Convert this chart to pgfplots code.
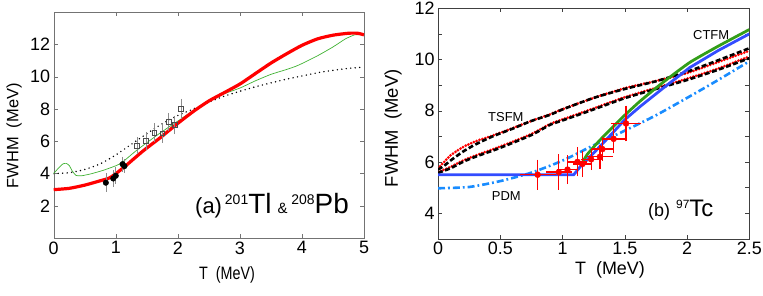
\documentclass[border=0pt]{standalone}
\usepackage{fontspec}
\setmainfont{Liberation Sans}
\usepackage{graphicx}
\usepackage{pgfplots}
\pgfplotsset{compat=1.18}
\definecolor{fgreen}{rgb}{0.25,0.7,0.2}
\definecolor{dgreen}{rgb}{0.2,0.62,0.1}
\definecolor{fblue}{rgb}{0.2,0.3,1}
\definecolor{lblue}{rgb}{0.1,0.55,1}
\begin{document}
\begin{tikzpicture}[x=1bp,y=1bp]
\path[use as bounding box] (0,0) rectangle (763,295);
% ---------------- panel (a)
\begin{axis}[at={(53.7bp,57bp)}, anchor=south west, scale only axis,
  width=310.3bp, height=225.7bp,
  xmin=0, xmax=5, ymin=0, ymax=14,
  xtick={0,1,2,3,4,5}, ytick={2,4,6,8,10,12},
  tick align=inside, major tick length=4bp,
  axis line style={black!55}, tick style={black!55},
  /pgf/number format/assume math mode=true,
  ticklabel style={font=\fontsize{18}{18}\selectfont},
  clip=true]
\addplot[black, line width=1.6bp, line cap=round, dash pattern=on 0bp off 4.5bp, smooth, tension=0.4] coordinates {
(0,4.0) (0.25,4.05) (0.5,4.25) (0.75,4.6) (1.0,5.15) (1.34,6.05) (1.71,7.0) (2.0,7.6) (2.25,8.0) (2.52,8.45) (2.75,8.8) (3.0,9.1) (3.25,9.38) (3.5,9.62) (3.75,9.85) (4.0,10.05) (4.25,10.25) (4.5,10.4) (4.75,10.52) (5.0,10.6)};
\addplot[fgreen, line width=0.7bp, smooth, tension=0.3] coordinates {
(0,4.0) (0.08,4.35) (0.15,4.6) (0.2,4.63) (0.25,4.5) (0.3,4.15) (0.36,3.88) (0.45,3.86) (0.6,3.98) (0.8,4.2) (1.0,4.48) (1.1,4.68) (1.34,5.45) (1.71,6.5) (1.98,7.2) (2.25,7.9) (2.52,8.55) (2.75,8.95) (3.0,9.3) (3.25,9.75) (3.5,10.15) (3.75,10.45) (3.9,10.65) (4.0,10.82) (4.25,11.3) (4.5,11.85) (4.7,12.35) (4.85,12.6) (5.0,12.6)};
\addplot[red, line width=3.2bp, smooth, tension=0.4] coordinates {
(0,3.0) (0.25,3.08) (0.5,3.28) (0.75,3.55) (0.91,3.75) (1.12,4.35) (1.44,5.4) (1.71,6.2) (1.98,7.05) (2.25,7.85) (2.5,8.5) (2.75,9.02) (3.0,9.55) (3.25,10.2) (3.5,10.85) (3.75,11.42) (4.0,11.95) (4.25,12.35) (4.5,12.58) (4.75,12.7) (4.9,12.7) (5.0,12.6)};
\addplot[only marks, mark=square, mark size=2.4bp, mark options={draw=black!70, fill=white, line width=0.6bp},
  error bars/.cd, y dir=both, y explicit, error bar style={black!45, line width=0.6bp}, error mark options={black!45, mark size=2bp, line width=0.6bp}]
  table[x=x, y=y, y error=e] {
x y e
1.34 5.72 0.40
1.49 6.01 0.45
1.62 6.53 0.45
1.75 6.49 0.45
1.85 7.19 0.45
1.95 7.02 0.45
2.05 8.00 0.50
};
\addplot[only marks, mark=*, mark size=2.8bp, mark options={black},
  error bars/.cd, y dir=both, y explicit, error bar style={black!45, line width=0.6bp}, error mark options={black!45, mark size=2bp, line width=0.6bp}]
  table[x=x, y=y, y error=e] {
x y e
0.84 3.43 0.45
0.96 3.69 0.40
1.00 3.86 0.40
1.11 4.58 0.35
1.14 4.46 0.30
};
\end{axis}
\node[anchor=base west, inner sep=0] at (195bp,295bp-213.3bp) {\fontsize{22}{22}\selectfont (a)\hspace{3bp}\raisebox{9bp}{\fontsize{14}{14}\selectfont 201}{\fontsize{28}{28}\selectfont Tl}\hspace{6bp}{\fontsize{15}{15}\selectfont\&}\hspace{4bp}\raisebox{9bp}{\fontsize{14}{14}\selectfont 208}{\fontsize{28}{28}\selectfont Pb}};
\node[anchor=center, inner sep=0] at (227bp,20bp) {\scalebox{0.8}[1]{\fontsize{18}{18}\selectfont T\ \ (MeV)}};
\node[anchor=center, inner sep=0, rotate=90] at (14bp,159.2bp) {\fontsize{16.5}{16.5}\selectfont FWHM\ \ (MeV)};
% ---------------- panel (b)
\begin{axis}[at={(438bp,56.3bp)}, anchor=south west, scale only axis,
  width=311.3bp, height=230.4bp,
  xmin=0, xmax=2.5, ymin=3, ymax=12,
  xtick={0,0.5,1,1.5,2,2.5}, ytick={4,6,8,10,12}, minor ytick={3,5,7,9,11},
  tick align=inside, major tick length=4bp, minor tick length=4bp,
  axis line style={black!75}, tick style={black!75},
  /pgf/number format/assume math mode=true,
  ticklabel style={font=\fontsize{18}{18}\selectfont},
  clip=true]
% TSFM upper band
\addplot[red, line width=3bp, line cap=round, dash pattern=on 0bp off 3bp, smooth, tension=0.4] coordinates {
(0,5.75) (0.05,6.0) (0.1,6.25) (0.2,6.58) (0.3,6.8) (0.44,7.03) (0.6,7.32) (0.75,7.6) (0.9,7.86) (1.0,8.06) (1.25,8.5) (1.5,8.88) (1.75,9.16) (2.0,9.47) (2.25,9.9) (2.5,10.34)};
\addplot[black, line width=2.6bp, dash pattern=on 5bp off 2.5bp, smooth, tension=0.4] coordinates {
(0,5.7) (0.05,5.85) (0.1,6.05) (0.2,6.4) (0.3,6.68) (0.44,7.0) (0.6,7.3) (0.75,7.6) (0.9,7.84) (1.0,8.05) (1.25,8.5) (1.5,8.85) (1.75,9.15) (2.0,9.52) (2.25,9.97) (2.5,10.44)};
% TSFM lower band
\addplot[red, line width=3bp, line cap=round, dash pattern=on 0bp off 3bp, smooth, tension=0.4] coordinates {
(0,5.6) (0.1,5.8) (0.2,6.05) (0.3,6.25) (0.5,6.6) (0.75,7.09) (0.9,7.48) (1.0,7.66) (1.25,8.09) (1.5,8.53) (1.75,8.89) (2.0,9.25) (2.25,9.65) (2.5,10.12)};
\addplot[black, line width=2.6bp, dash pattern=on 5bp off 2.5bp, smooth, tension=0.4] coordinates {
(0,5.57) (0.1,5.75) (0.2,6.0) (0.3,6.2) (0.5,6.55) (0.75,7.05) (0.9,7.45) (1.0,7.62) (1.25,8.05) (1.5,8.49) (1.75,8.85) (2.0,9.2) (2.25,9.6) (2.5,10.05)};
% PDM
\addplot[lblue, line width=2.6bp, dash pattern=on 7bp off 3bp on 1.8bp off 3bp, smooth, tension=0.4] coordinates {
(0,4.97) (0.25,5.02) (0.5,5.25) (0.75,5.58) (1.0,6.05) (1.25,6.65) (1.5,7.22) (1.75,7.82) (2.0,8.5) (2.25,9.2) (2.5,9.93)};
% blue
\addplot[fblue, line width=2.8bp] coordinates {
(0,5.5) (1.09,5.5) (1.14,5.8) (1.2,6.1) (1.3,6.6) (1.4,7.12) (1.5,7.65) (1.62,8.15) (1.8,8.85) (2.02,9.68) (2.25,10.35) (2.5,11.0)};
% green
\addplot[dgreen, line width=2.8bp, smooth, tension=0.3] coordinates {
(1.15,5.9) (1.2,6.3) (1.3,6.85) (1.475,7.71) (1.62,8.36) (1.8,9.08) (2.02,9.88) (2.25,10.52) (2.5,11.17)};
% data
\addplot[only marks, mark=*, mark size=3bp, mark options={red},
  error bars/.cd, y dir=both, y explicit, x dir=both, x explicit,
  error bar style={red, line width=1.3bp}, error mark options={red, mark size=3bp, line width=1.3bp}]
  table[x=x, y=y, x error=ex, y error=ey] {
x y ex ey
0.80 5.50 0.12 0.47
0.97 5.60 0.08 0.58
1.04 5.70 0.06 0.45
1.12 6.00 0.05 0.45
1.16 5.92 0.05 0.40
1.23 6.10 0.06 0.30
1.30 6.20 0.08 0.35
1.32 6.50 0.06 0.35
1.41 6.90 0.07 0.45
1.51 7.50 0.10 0.58
};
\end{axis}
\node[anchor=base west, inner sep=0] at (488bp,295bp-121.7bp) {\fontsize{13}{13}\selectfont TSFM};
\node[anchor=base west, inner sep=0] at (491.7bp,295bp-200bp) {\fontsize{13}{13}\selectfont PDM};
\node[anchor=base west, inner sep=0] at (693bp,295bp-40bp) {\fontsize{13}{13}\selectfont CTFM};
\node[anchor=base west, inner sep=0] at (648bp,295bp-216bp) {\fontsize{18}{18}\selectfont (b)\hspace{6bp}\raisebox{8bp}{\fontsize{12}{12}\selectfont 97}{\fontsize{24}{24}\selectfont Tc}};
\node[anchor=center, inner sep=0] at (610bp,25bp) {\fontsize{18}{18}\selectfont T\ \ (MeV)};
\node[anchor=center, inner sep=0, rotate=90] at (393bp,166.7bp) {\fontsize{18.5}{18.5}\selectfont FWHM\ \ (MeV)};
\end{tikzpicture}
\end{document}
